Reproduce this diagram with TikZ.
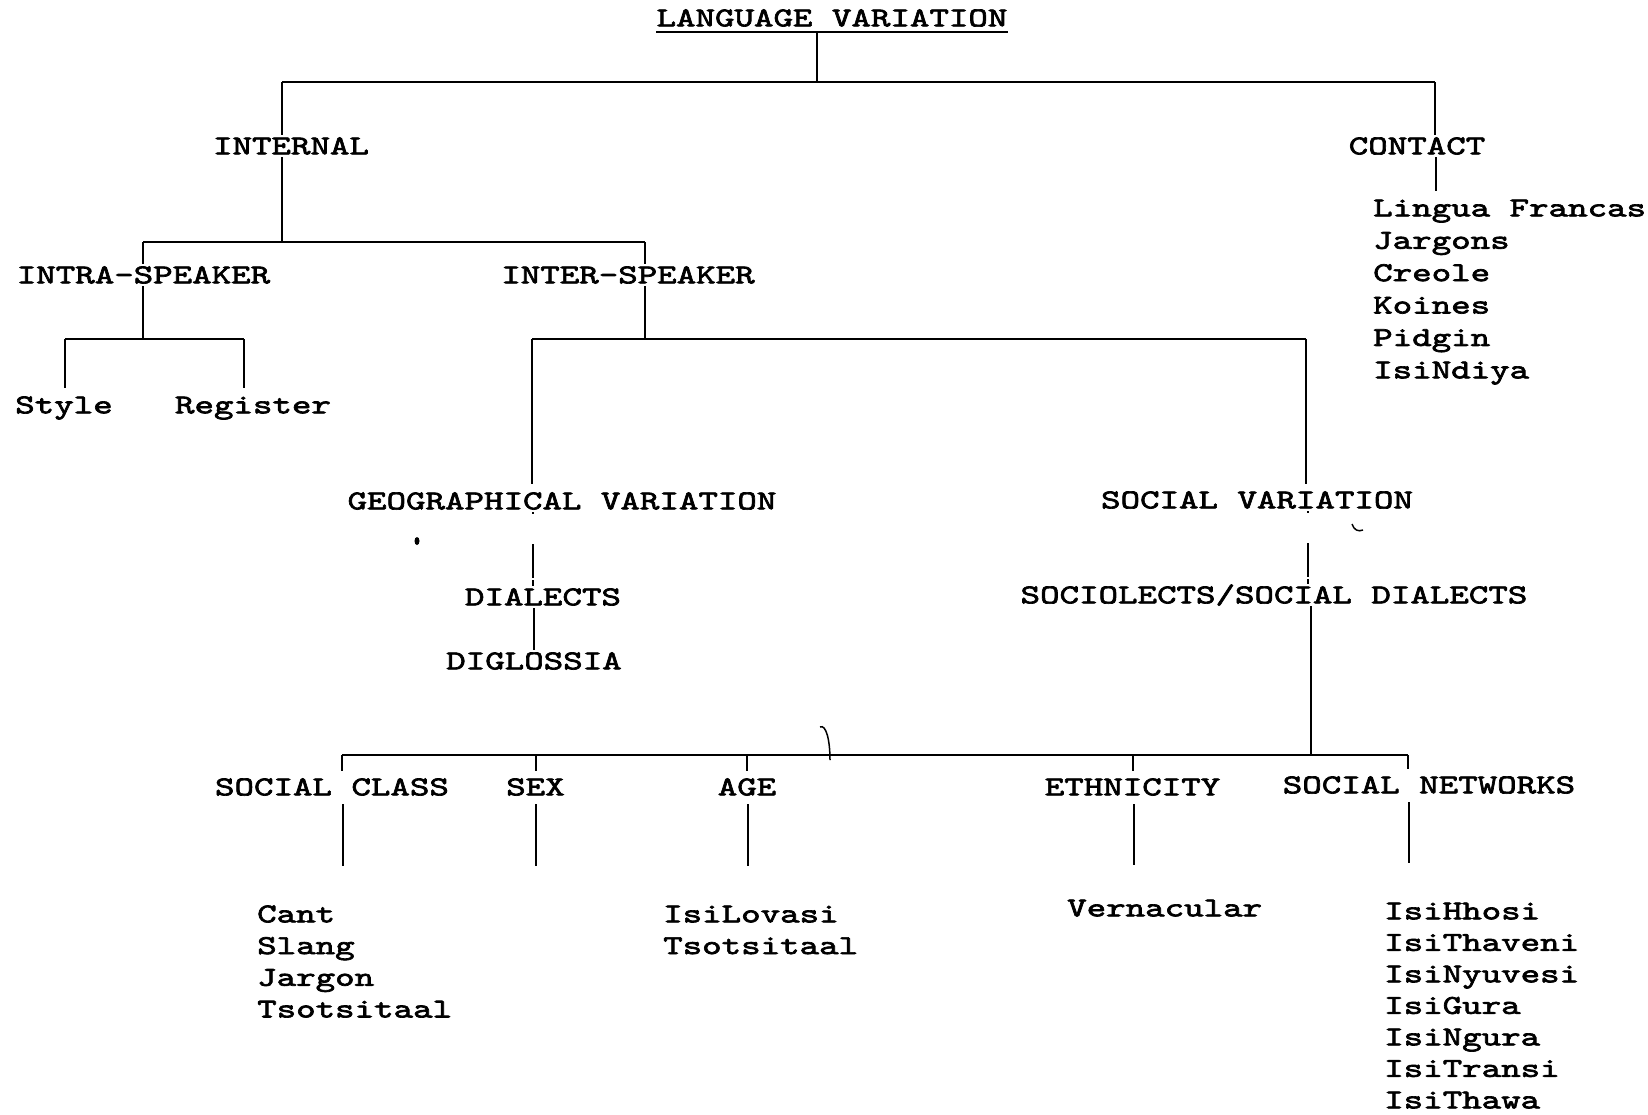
\documentclass[tikz,border=0pt]{standalone}
\usepackage{fontspec}
\newfontfamily\tw[FakeStretch=1.36,FakeBold=2.5]{lmmono10-regular.otf}
\begin{document}
\begin{tikzpicture}[x=1pt,y=-1pt,
  lbl/.style={font=\tw\fontsize{27.3}{32}\selectfont, inner xsep=0pt, inner ysep=2.5pt, text height=16.7pt, text depth=0pt},
  item/.style={lbl, anchor=west},
  ln/.style={line width=1.8pt},
  brk/.style={line width=1.5pt, dash pattern=on 2pt off 30pt on 34pt}]
\useasboundingbox (0,0) rectangle (1648,1114);
\fill[white] (0,0) rectangle (1648,1114);
% labels
\node[lbl] (title) at (832,18) {LANGUAGE VARIATION};
\node[lbl] (internal) at (291,146) {INTERNAL};
\node[lbl] (contact) at (1417,146) {CONTACT};
\node[lbl] (intra) at (143.5,275) {INTRA-SPEAKER};
\node[lbl] (inter) at (628,275) {INTER-SPEAKER};
\node[lbl] (style) at (64,405) {Style};
\node[lbl] (register) at (253,405) {Register};
\node[lbl] (geo) at (562,501) {GEOGRAPHICAL VARIATION};
\node[lbl] (social) at (1257,500) {SOCIAL VARIATION};
\node[lbl] (dialects) at (543,597) {DIALECTS};
\node[lbl] (diglossia) at (534,661) {DIGLOSSIA};
\node[lbl] (socio) at (1274,595) {SOCIOLECTS/SOCIAL DIALECTS};
\node[lbl] (sclass) at (332,787) {SOCIAL CLASS};
\node[lbl] (sex) at (535.5,787) {SEX};
\node[lbl] (age) at (747,787) {AGE};
\node[lbl] (ethnic) at (1132.5,787) {ETHNICITY};
\node[lbl] (snet) at (1429,785) {SOCIAL NETWORKS};
% lists
\foreach \t [count=\i] in {Lingua Francas,Jargons,Creole,Koines,Pidgin,IsiNdiya}
  \node[item] (ct\i) at (1373,{208+32.4*(\i-1)}) {\t};
\foreach \t [count=\i] in {Cant,Slang,Jargon,Tsotsitaal}
  \node[item] (cl\i) at (257,{914+31.7*(\i-1)}) {\t};
\foreach \t [count=\i] in {IsiLovasi,Tsotsitaal}
  \node[item] (ag\i) at (663,{914+31.7*(\i-1)}) {\t};
\node[item] (vern) at (1067,908) {Vernacular};
\foreach \t [count=\i] in {IsiHhosi,IsiThaveni,IsiNyuvesi,IsiGura,IsiNgura,IsiTransi,IsiThawa}
  \node[item] (nw\i) at (1384,{911+31.5*(\i-1)}) {\t};
% connectors
\coordinate (t0) at (817,82);
\coordinate (hA) at (282,82);
\coordinate (hB) at (1435,82);
\draw[ln] ([yshift=-3pt]title.south west) -- ([yshift=-3pt]title.south east);
\draw[ln] ([yshift=-3pt]title.south -| t0) -- (t0);
\draw[ln] (hA) -- (hB);
\draw[ln] (hA) -- (hA |- internal.north);
\draw[ln] (hB) -- (hB |- contact.north);
\coordinate (c1) at (1436,191);
\draw[ln] (c1 |- contact.south) -- (c1);
\coordinate (i0) at (282,242);
\coordinate (iL) at (143,242);
\coordinate (iR) at (645,242);
\draw[ln] (i0 |- internal.south) -- (i0);
\draw[ln] (iL) -- (iR);
\draw[ln] (iL) -- (iL |- intra.north);
\draw[ln] (iR) -- (iR |- inter.north);
\coordinate (a0) at (143,339);
\coordinate (aL) at (65,339);
\coordinate (aR) at (244,339);
\draw[ln] (a0 |- intra.south) -- (a0);
\draw[ln] (aL) -- (aR);
\draw[ln, shorten >=6pt] (aL) -- (aL |- style.north);
\draw[ln, shorten >=6pt] (aR) -- (aR |- register.north);
\coordinate (b0) at (645,339);
\coordinate (bL) at (532,339);
\coordinate (bR) at (1306,339);
\draw[ln] (b0 |- inter.south) -- (b0);
\draw[ln] (bL) -- (bR);
\draw[ln, shorten >=6pt] (bL) -- (bL |- geo.north);
\draw[ln, shorten >=5pt] (bR) -- (bR |- social.north);
\coordinate (g0) at (533,540);
\draw[brk] (geo.south -| g0) -- (dialects.north -| g0);
\coordinate (d0) at (534,620);
\draw[ln] (dialects.south -| d0) -- (diglossia.north -| d0);
\coordinate (s0) at (1308,540);
\draw[brk] (social.south -| s0) -- (socio.north -| s0);
\coordinate (e0) at (1311,755);
\coordinate (e1) at (342,755);
\coordinate (e2) at (536,755);
\coordinate (e3) at (747,755);
\coordinate (e4) at (1133,755);
\coordinate (e5) at (1408,755);
\draw[ln] (socio.south -| e0) -- (e0);
\draw[ln] (e1) -- (e5);
\draw[ln, shorten >=5pt] (e1) -- (e1 |- sclass.north);
\draw[ln, shorten >=5pt] (e2) -- (e2 |- sex.north);
\draw[ln, shorten >=5pt] (e3) -- (e3 |- age.north);
\draw[ln, shorten >=5pt] (e4) -- (e4 |- ethnic.north);
\draw[ln, shorten >=5pt] (e5) -- (e5 |- snet.north);
\coordinate (f1) at (343,866);
\coordinate (f2) at (536,866);
\coordinate (f3) at (748,866);
\coordinate (f4) at (1134,865);
\coordinate (f5) at (1409,863);
\draw[ln, shorten <=6pt] (sclass.south -| f1) -- (f1);
\draw[ln, shorten <=6pt] (sex.south -| f2) -- (f2);
\draw[ln, shorten <=6pt] (age.south -| f3) -- (f3);
\draw[ln, shorten <=6pt] (ethnic.south -| f4) -- (f4);
\draw[ln, shorten <=6pt] (snet.south -| f5) -- (f5);
% stray pen marks
\draw[line width=1.5pt] (820,727) .. controls (826,724) and (830,740) .. (830,760);
\draw[line width=1.5pt] (1352,524) .. controls (1354,530) and (1358,532) .. (1363,530);
\fill (417,541) ellipse (2.5pt and 4pt);
\end{tikzpicture}
\end{document}
